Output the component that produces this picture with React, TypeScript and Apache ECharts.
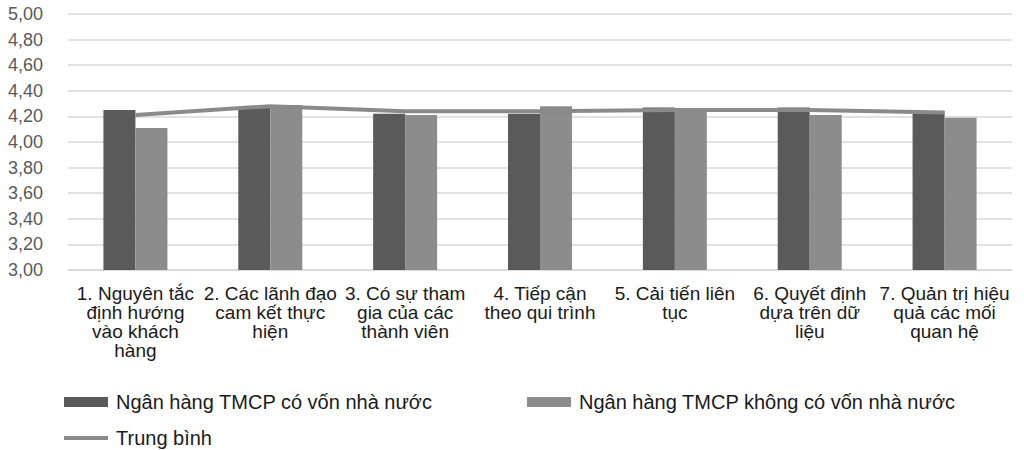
import React, { useEffect, useRef } from "react";
import * as echarts from "echarts";

const categories = [
  "1. Nguyên tắc\nđịnh hướng\nvào khách\nhàng",
  "2. Các lãnh đạo\ncam kết thực\nhiện",
  "3. Có sự tham\ngia của các\nthành viên",
  "4. Tiếp cận\ntheo qui trình",
  "5. Cải tiến liên\ntục",
  "6. Quyết định\ndựa trên dữ\nliệu",
  "7. Quản trị hiệu\nquả các mối\nquan hệ",
];
const stateOwned = [4.25, 4.27, 4.22, 4.22, 4.27, 4.27, 4.24];
const nonStateOwned = [4.11, 4.29, 4.21, 4.28, 4.26, 4.21, 4.19];
const average = [4.21, 4.28, 4.24, 4.24, 4.25, 4.25, 4.23];
const seriesNames = [
  "Ngân hàng TMCP có vốn nhà nước",
  "Ngân hàng TMCP không có vốn nhà nước",
  "Trung bình",
];

export default function App() {
  const ref = useRef<HTMLDivElement>(null);
  useEffect(() => {
    if (!ref.current) return;
    const chart = echarts.init(ref.current, null, { renderer: "svg" });
    const font = "'Liberation Sans', Arial, sans-serif";
    const legendText = {
      fontFamily: font,
      fontSize: 20,
      color: "#1a1a1a",
      padding: [0, 0, 0, 3],
    };
    chart.setOption({
      animation: false,
      backgroundColor: "#ffffff",
      grid: { left: 68, right: 12, top: 14, bottom: 180, containLabel: false },
      legend: [
        {
          data: [{ name: seriesNames[0], icon: "rect" }],
          left: 59,
          top: 387,
          itemWidth: 44,
          itemHeight: 10,
          textStyle: legendText,
        },
        {
          data: [{ name: seriesNames[1], icon: "rect" }],
          left: 522,
          top: 387,
          itemWidth: 44,
          itemHeight: 10,
          textStyle: legendText,
        },
        {
          data: [{ name: seriesNames[2], icon: "rect" }],
          left: 59,
          top: 423,
          itemWidth: 44,
          itemHeight: 4,
          textStyle: legendText,
        },
      ],
      xAxis: {
        type: "category",
        data: categories,
        axisTick: { show: false },
        axisLine: { lineStyle: { color: "#d9d9d9", width: 1.5 } },
        axisLabel: {
          interval: 0,
          margin: 14,
          fontFamily: font,
          fontSize: 19,
          lineHeight: 19,
          color: "#1a1a1a",
          align: "center",
        },
      },
      yAxis: {
        type: "value",
        min: 3,
        max: 5,
        interval: 0.2,
        axisLine: { show: false },
        axisTick: { show: false },
        splitLine: { lineStyle: { color: "#d9d9d9", width: 1.5 } },
        axisLabel: {
          margin: 25,
          fontFamily: font,
          fontSize: 18,
          color: "#595959",
          formatter: (v: number) => v.toFixed(2).replace(".", ","),
        },
      },
      series: [
        {
          name: seriesNames[0],
          type: "bar",
          data: stateOwned,
          barWidth: 32,
          barGap: "0%",
          itemStyle: { color: "#5a5a5a" },
        },
        {
          name: seriesNames[1],
          type: "bar",
          data: nonStateOwned,
          barWidth: 32,
          barGap: "0%",
          itemStyle: { color: "#8c8c8c" },
        },
        {
          name: seriesNames[2],
          type: "line",
          data: average,
          symbol: "none",
          z: 5,
          lineStyle: { color: "#8a8a8a", width: 4 },
          itemStyle: { color: "#8a8a8a" },
        },
      ],
    });
    return () => chart.dispose();
  }, []);
  return (
    <div
      ref={ref}
      style={{ position: "fixed", left: 0, top: 0, width: 1024, height: 450, background: "#fff" }}
    />
  );
}
